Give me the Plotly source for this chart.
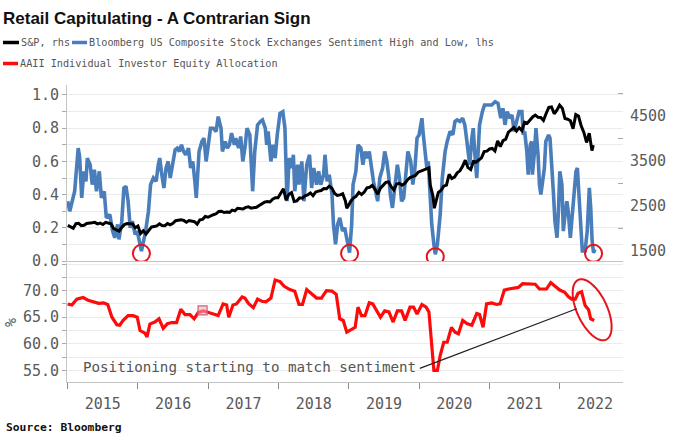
import numpy as np
import pandas as pd
import plotly.graph_objects as go

# ---------------- data ----------------
# Bloomberg US Composite Stock Exchanges Sentiment High and Low (lhs), decimal-year positions
blue_t = [2015.00, 2015.03, 2015.10, 2015.15, 2015.17, 2015.20, 2015.23, 2015.26, 2015.28, 2015.32,
          2015.35, 2015.38, 2015.41, 2015.45, 2015.48, 2015.52, 2015.55, 2015.60, 2015.64, 2015.67,
          2015.71, 2015.73, 2015.77, 2015.80, 2015.83, 2015.86, 2015.89, 2015.92, 2015.96, 2015.99,
          2016.03, 2016.05, 2016.09, 2016.11, 2016.15, 2016.18, 2016.22, 2016.26, 2016.29, 2016.31,
          2016.34, 2016.37, 2016.40, 2016.43, 2016.46, 2016.49, 2016.53, 2016.56, 2016.59, 2016.62,
          2016.65, 2016.68, 2016.72, 2016.75, 2016.78, 2016.81, 2016.83, 2016.87, 2016.91, 2016.94,
          2016.97, 2017.00, 2017.03, 2017.07, 2017.11, 2017.14, 2017.18, 2017.20, 2017.24, 2017.27,
          2017.30, 2017.33, 2017.37, 2017.39, 2017.43, 2017.46, 2017.49, 2017.52, 2017.55, 2017.59,
          2017.63, 2017.66, 2017.70, 2017.74, 2017.77, 2017.81, 2017.83, 2017.85, 2017.89, 2017.92,
          2017.95, 2017.98, 2018.02, 2018.06, 2018.09, 2018.12, 2018.15, 2018.19, 2018.21, 2018.23,
          2018.27, 2018.29, 2018.33, 2018.36, 2018.40, 2018.44, 2018.47, 2018.50, 2018.54, 2018.57,
          2018.60, 2018.64, 2018.66, 2018.69, 2018.72, 2018.76, 2018.78, 2018.81, 2018.84, 2018.87,
          2018.91, 2018.94, 2018.98, 2019.01, 2019.04, 2019.06, 2019.10, 2019.13, 2019.17, 2019.20,
          2019.23, 2019.26, 2019.29, 2019.32, 2019.35, 2019.38, 2019.41, 2019.44, 2019.48, 2019.51,
          2019.54, 2019.57, 2019.59, 2019.62, 2019.66, 2019.69, 2019.72, 2019.75, 2019.78, 2019.81,
          2019.84, 2019.88, 2019.91, 2019.94, 2019.97, 2020.00, 2020.04, 2020.06, 2020.08, 2020.11,
          2020.13, 2020.15, 2020.18, 2020.21, 2020.23, 2020.26, 2020.30, 2020.33, 2020.37, 2020.40,
          2020.44, 2020.48, 2020.51, 2020.54, 2020.58, 2020.62, 2020.65, 2020.68, 2020.70, 2020.72,
          2020.75, 2020.77, 2020.79, 2020.82, 2020.84, 2020.86, 2020.90, 2020.93, 2020.98, 2021.03,
          2021.08, 2021.12, 2021.16, 2021.19, 2021.22, 2021.25, 2021.29, 2021.32, 2021.35, 2021.39,
          2021.42, 2021.46, 2021.48, 2021.50, 2021.53, 2021.55, 2021.58, 2021.60, 2021.61, 2021.64,
          2021.66, 2021.69, 2021.71, 2021.73, 2021.76, 2021.78, 2021.80, 2021.84, 2021.86, 2021.88,
          2021.91, 2021.93, 2021.96, 2021.98, 2022.00, 2022.03, 2022.05, 2022.07, 2022.10, 2022.12,
          2022.15, 2022.17, 2022.20, 2022.23, 2022.25, 2022.28, 2022.30, 2022.32, 2022.36, 2022.39,
          2022.42, 2022.44, 2022.46, 2022.48, 2022.50]
blue_v = [0.36, 0.30, 0.42, 0.68, 0.63, 0.38, 0.54, 0.48, 0.62, 0.58,
          0.46, 0.55, 0.42, 0.54, 0.38, 0.42, 0.26, 0.28, 0.18, 0.14,
          0.22, 0.13, 0.24, 0.44, 0.45, 0.36, 0.20, 0.24, 0.16, 0.18,
          0.10, 0.06, 0.14, 0.18, 0.30, 0.46, 0.50, 0.48, 0.58, 0.62,
          0.52, 0.44, 0.56, 0.60, 0.50, 0.58, 0.67, 0.68, 0.66, 0.70,
          0.66, 0.64, 0.68, 0.56, 0.60, 0.48, 0.38, 0.66, 0.72, 0.74,
          0.60, 0.70, 0.80, 0.80, 0.78, 0.87, 0.80, 0.66, 0.72, 0.68,
          0.70, 0.77, 0.70, 0.74, 0.68, 0.75, 0.60, 0.68, 0.80, 0.76,
          0.42, 0.66, 0.82, 0.84, 0.85, 0.80, 0.70, 0.78, 0.60, 0.70,
          0.62, 0.76, 0.89, 0.90, 0.80, 0.36, 0.62, 0.56, 0.64, 0.42,
          0.58, 0.46, 0.60, 0.36, 0.58, 0.64, 0.44, 0.56, 0.46, 0.54,
          0.46, 0.52, 0.64, 0.48, 0.52, 0.40, 0.22, 0.10, 0.22, 0.26,
          0.18, 0.20, 0.10, 0.05, 0.22, 0.46, 0.54, 0.70, 0.68, 0.58,
          0.66, 0.62, 0.66, 0.56, 0.48, 0.42, 0.36, 0.50, 0.56, 0.66,
          0.60, 0.50, 0.40, 0.32, 0.46, 0.58, 0.50, 0.36, 0.38, 0.54,
          0.66, 0.60, 0.46, 0.56, 0.74, 0.76, 0.86, 0.76, 0.66, 0.56,
          0.60, 0.40, 0.22, 0.10, 0.04, 0.10, 0.28, 0.50, 0.66, 0.72,
          0.78, 0.76, 0.84, 0.85, 0.84, 0.86, 0.82, 0.72, 0.62, 0.58,
          0.74, 0.80, 0.66, 0.50, 0.66, 0.82, 0.90, 0.94, 0.94, 0.94,
          0.96, 0.95, 0.86, 0.92, 0.82, 0.90, 0.86, 0.88, 0.78, 0.86,
          0.90, 0.90, 0.76, 0.78, 0.66, 0.52, 0.70, 0.72, 0.52, 0.66,
          0.80, 0.64, 0.46, 0.40, 0.50, 0.56, 0.72, 0.76, 0.74, 0.56,
          0.40, 0.24, 0.14, 0.30, 0.54, 0.46, 0.18, 0.26, 0.36, 0.30,
          0.14, 0.24, 0.40, 0.54, 0.56, 0.36, 0.18, 0.06, 0.06, 0.18,
          0.44, 0.32, 0.12, 0.05, 0.07]

# S&P 500 (rhs)
sp_dates = ["2015-01-02", "2015-01-16", "2015-01-30", "2015-02-13", "2015-02-27", "2015-03-13", "2015-03-27",
            "2015-04-10", "2015-04-24", "2015-05-08", "2015-05-22", "2015-06-05", "2015-06-19", "2015-07-03",
            "2015-07-17", "2015-07-31", "2015-08-14", "2015-08-28", "2015-09-11", "2015-09-25", "2015-10-09",
            "2015-10-23", "2015-11-06", "2015-11-20", "2015-12-04", "2015-12-18", "2016-01-01", "2016-01-15",
            "2016-01-29", "2016-02-12", "2016-02-26", "2016-03-11", "2016-03-25", "2016-04-08", "2016-04-22",
            "2016-05-06", "2016-05-20", "2016-06-03", "2016-06-17", "2016-07-01", "2016-07-15", "2016-07-29",
            "2016-08-12", "2016-08-26", "2016-09-09", "2016-09-23", "2016-10-07", "2016-10-21", "2016-11-04",
            "2016-11-18", "2016-12-02", "2016-12-16", "2016-12-30", "2017-01-13", "2017-01-27", "2017-02-10",
            "2017-02-24", "2017-03-10", "2017-03-24", "2017-04-07", "2017-04-21", "2017-05-05", "2017-05-19",
            "2017-06-02", "2017-06-16", "2017-06-30", "2017-07-14", "2017-07-28", "2017-08-11", "2017-08-25",
            "2017-09-08", "2017-09-22", "2017-10-06", "2017-10-20", "2017-11-03", "2017-11-17", "2017-12-01",
            "2017-12-15", "2017-12-29", "2018-01-12", "2018-01-26", "2018-02-09", "2018-02-23", "2018-03-09",
            "2018-03-23", "2018-04-06", "2018-04-20", "2018-05-04", "2018-05-18", "2018-06-01", "2018-06-15",
            "2018-06-29", "2018-07-13", "2018-07-27", "2018-08-10", "2018-08-24", "2018-09-07", "2018-09-21",
            "2018-10-05", "2018-10-19", "2018-11-02", "2018-11-16", "2018-11-30", "2018-12-14", "2018-12-21",
            "2018-12-28", "2019-01-11", "2019-01-25", "2019-02-08", "2019-02-22", "2019-03-08", "2019-03-22",
            "2019-04-05", "2019-04-19", "2019-05-03", "2019-05-17", "2019-05-31", "2019-06-14", "2019-06-28",
            "2019-07-12", "2019-07-26", "2019-08-09", "2019-08-23", "2019-09-06", "2019-09-20", "2019-10-04",
            "2019-10-18", "2019-11-01", "2019-11-15", "2019-11-29", "2019-12-13", "2019-12-27", "2020-01-10",
            "2020-01-24", "2020-02-07", "2020-02-21", "2020-02-28", "2020-03-13", "2020-03-20", "2020-03-27",
            "2020-04-10", "2020-04-24", "2020-05-08", "2020-05-22", "2020-06-05", "2020-06-19", "2020-07-03",
            "2020-07-17", "2020-07-31", "2020-08-14", "2020-08-28", "2020-09-11", "2020-09-25", "2020-10-09",
            "2020-10-23", "2020-11-06", "2020-11-20", "2020-12-04", "2020-12-18", "2021-01-01", "2021-01-15",
            "2021-01-29", "2021-02-12", "2021-02-26", "2021-03-12", "2021-03-26", "2021-04-09", "2021-04-23",
            "2021-05-07", "2021-05-21", "2021-06-04", "2021-06-18", "2021-07-02", "2021-07-16", "2021-07-30",
            "2021-08-13", "2021-08-27", "2021-09-10", "2021-09-24", "2021-10-08", "2021-10-22", "2021-11-05",
            "2021-11-19", "2021-12-03", "2021-12-17", "2021-12-31", "2022-01-14", "2022-01-28", "2022-02-11",
            "2022-02-25", "2022-03-11", "2022-03-25", "2022-04-08", "2022-04-22", "2022-05-06", "2022-05-20",
            "2022-06-03", "2022-06-10", "2022-06-17", "2022-06-24"]
sp_vals = [2058, 2019, 1995, 2097, 2105, 2053, 2061,
           2102, 2117, 2116, 2126, 2092, 2110, 2077,
           2127, 2104, 2092, 1989, 1961, 1932, 2015,
           2075, 2100, 2089, 2092, 2006, 2044, 1880,
           1940, 1865, 1948, 2022, 2035, 2048, 2092,
           2057, 2052, 2099, 2071, 2103, 2162, 2174,
           2184, 2169, 2128, 2165, 2153, 2141, 2085,
           2182, 2192, 2258, 2239, 2275, 2295, 2316,
           2367, 2373, 2344, 2356, 2349, 2399, 2382,
           2439, 2433, 2423, 2459, 2472, 2441, 2443,
           2461, 2502, 2549, 2575, 2587, 2579, 2642,
           2675, 2674, 2786, 2873, 2620, 2747, 2786,
           2588, 2604, 2670, 2663, 2713, 2735, 2780,
           2718, 2801, 2819, 2833, 2875, 2872, 2930,
           2885, 2768, 2723, 2736, 2760, 2600, 2440,
           2486, 2596, 2665, 2708, 2793, 2743, 2801,
           2893, 2905, 2946, 2860, 2752, 2887, 2942,
           3014, 3026, 2919, 2847, 2979, 2992, 2952,
           2986, 3067, 3120, 3141, 3169, 3240, 3265,
           3295, 3328, 3338, 2954, 2711, 2440, 2541,
           2790, 2837, 2930, 2955, 3194, 3098, 3130,
           3225, 3271, 3373, 3508, 3341, 3298, 3477,
           3465, 3510, 3558, 3699, 3709, 3756, 3768,
           3714, 3934, 3811, 3943, 3975, 4129, 4180,
           4233, 4156, 4230, 4166, 4352, 4327, 4395,
           4468, 4509, 4459, 4455, 4391, 4545, 4680,
           4690, 4538, 4620, 4730, 4662, 4432, 4419,
           4385, 4204, 4520, 4488, 4272, 4123, 3901,
           4109, 3950, 3720, 3840]

# AAII Individual Investor Equity Allocation (%), decimal-year positions
red_t = [2015.00, 2015.06, 2015.13, 2015.22, 2015.29, 2015.36, 2015.44, 2015.51, 2015.57, 2015.63,
         2015.70, 2015.74, 2015.79, 2015.86, 2015.93, 2015.99, 2016.03, 2016.10, 2016.13, 2016.17,
         2016.24, 2016.30, 2016.36, 2016.42, 2016.48, 2016.55, 2016.61, 2016.67, 2016.74, 2016.80,
         2016.86, 2016.93, 2017.00, 2017.07, 2017.14, 2017.21, 2017.26, 2017.29, 2017.35, 2017.40,
         2017.48, 2017.52, 2017.57, 2017.64, 2017.70, 2017.76, 2017.82, 2017.89, 2017.95, 2018.02,
         2018.08, 2018.16, 2018.23, 2018.29, 2018.34, 2018.40, 2018.47, 2018.54, 2018.61, 2018.68,
         2018.76, 2018.82, 2018.87, 2018.92, 2018.97, 2019.04, 2019.09, 2019.13, 2019.18, 2019.23,
         2019.29, 2019.34, 2019.40, 2019.45, 2019.51, 2019.57, 2019.63, 2019.69, 2019.75, 2019.80,
         2019.87, 2019.92, 2019.97, 2020.04, 2020.10, 2020.14, 2020.18, 2020.21, 2020.26, 2020.30,
         2020.35, 2020.40, 2020.46, 2020.51, 2020.56, 2020.62, 2020.68, 2020.75, 2020.82, 2020.86,
         2020.91, 2020.96, 2021.03, 2021.10, 2021.15, 2021.21, 2021.27, 2021.34, 2021.41, 2021.47,
         2021.53, 2021.60, 2021.65, 2021.71, 2021.77, 2021.81, 2021.87, 2021.93, 2022.00, 2022.07,
         2022.12, 2022.17, 2022.22, 2022.26, 2022.31, 2022.36, 2022.41, 2022.44, 2022.49]
red_v = [67.5, 67.3, 68.4, 68.7, 68.2, 67.9, 67.6, 67.7, 67.4, 65.0,
         63.6, 63.5, 64.4, 65.3, 65.3, 65.0, 62.5, 62.0, 61.3, 63.7,
         64.1, 64.7, 62.9, 63.8, 64.0, 64.0, 66.5, 65.5, 65.5, 64.7,
         65.9, 66.2, 65.9, 65.6, 65.3, 67.5, 67.3, 65.0, 67.3, 67.5,
         68.8, 68.6, 67.6, 66.8, 68.4, 68.0, 67.9, 68.6, 72.0, 71.7,
         70.8, 70.2, 69.9, 67.4, 67.4, 70.2, 69.3, 68.6, 68.6, 70.0,
         69.9, 69.3, 64.7, 64.4, 62.2, 62.8, 63.1, 66.9, 65.3, 65.3,
         67.7, 67.5, 66.0, 65.0, 66.2, 66.0, 64.1, 66.2, 66.2, 64.4,
         66.9, 66.9, 65.6, 67.4, 66.9, 66.0, 59.7, 55.0, 55.0, 57.8,
         60.3, 60.3, 63.1, 62.2, 61.9, 64.4, 63.8, 63.5, 65.7, 65.5,
         63.1, 67.5, 67.7, 67.4, 67.5, 70.1, 70.3, 70.4, 70.6, 71.3,
         71.3, 71.2, 71.2, 70.3, 70.3, 70.3, 71.5, 70.9, 70.1, 69.7,
         68.9, 68.4, 68.4, 69.5, 69.8, 67.2, 66.4, 64.7, 64.4]

# highlighted sentiment lows (circled), the small square marker, and the ellipse focus
circle_t = [2016.05, 2019.01, 2020.23, 2022.48]
circle_v = [0.046, 0.046, 0.026, 0.046]
square_t = [2016.92]
square_v = [66.3]
ellipse_t = 2022.46
ellipse_v = 66.4
callout_t = [2020.01, 2022.24]
callout_v = [55.4, 66.6]

left_ticks = [0.0, 0.2, 0.4, 0.6, 0.8, 1.0]
right_ticks = [1500, 2500, 3500, 4500]
bottom_ticks = [55, 60, 65, 70]

title_text = "Retail Capitulating - A Contrarian Sign"
legend_texts = ["S&P, rhs", "Bloomberg US Composite Stock Exchanges Sentiment High and Low, lhs",
                "AAII Individual Investor Equity Allocation"]
note_text = "Positioning starting to match sentiment"
source_text = "Source: Bloomberg"


def dec2date(t):
    y = int(np.floor(t))
    return pd.Timestamp(year=y, month=1, day=1) + pd.Timedelta(days=(t - y) * 365.25)


# ---------------- layout geometry ----------------
W, H = 676, 439
ML, MR, MT, MB = 67, 53, 85, 57
PW, PH = W - ML - MR, H - MT - MB


def px(x):
    return (x - ML) / PW


def py(y):
    return (H - MB - y) / PH


BLUE = "#4a7ebb"
RED = "#ff0a0a"
GRID = "#ebebeb"
AXIS = "#c4c4c4"
TICKC = "#5a5a5a"
MONO = "DejaVu Sans Mono, Liberation Mono, monospace"

fig = go.Figure()
fig.add_trace(go.Scatter(x=[dec2date(t) for t in blue_t], y=blue_v, mode="lines",
                         line=dict(color=BLUE, width=3.6), xaxis="x2", yaxis="y",
                         name=legend_texts[1], showlegend=False))
fig.add_trace(go.Scatter(x=pd.to_datetime(sp_dates), y=sp_vals, mode="lines",
                         line=dict(color="#000000", width=3), xaxis="x2", yaxis="y2",
                         name=legend_texts[0], showlegend=False))
fig.add_trace(go.Scatter(x=[dec2date(t) for t in red_t], y=red_v, mode="lines",
                         line=dict(color=RED, width=3.2), xaxis="x", yaxis="y3",
                         name=legend_texts[2], showlegend=False))
fig.add_trace(go.Scatter(x=[dec2date(t) for t in square_t], y=square_v, mode="markers",
                         marker=dict(symbol="square", size=9, color="rgba(235,170,180,0.55)",
                                     line=dict(color="#d0607a", width=1.2)),
                         xaxis="x", yaxis="y3", showlegend=False, hoverinfo="skip"))

shapes = []
for t, v in zip(circle_t, circle_v):
    shapes.append(dict(type="circle", xref="x2", yref="y", xsizemode="pixel", ysizemode="pixel",
                       xanchor=dec2date(t), yanchor=v, x0=-8.5, x1=8.5, y0=-8.5, y1=8.5,
                       line=dict(color="#e3141c", width=2)))

# tilted ellipse (pixel path around the anchor)
ang = np.deg2rad(25)
u = (np.sin(ang), -np.cos(ang))
w = (np.cos(ang), np.sin(ang))
th = np.linspace(0, 2 * np.pi, 73)
a_, b_ = 33, 15
ex = a_ * np.cos(th) * u[0] + b_ * np.sin(th) * w[0]
ey = a_ * np.cos(th) * u[1] + b_ * np.sin(th) * w[1]
path = "M " + " L ".join(f"{x:.2f},{y:.2f}" for x, y in zip(ex, ey)) + " Z"
shapes.append(dict(type="path", xref="x", yref="y3", xsizemode="pixel", ysizemode="pixel",
                   xanchor=dec2date(ellipse_t), yanchor=ellipse_v, path=path,
                   line=dict(color="#e3141c", width=2)))
# callout line
shapes.append(dict(type="line", xref="x", yref="y3",
                   x0=dec2date(callout_t[0]), y0=callout_v[0], x1=dec2date(callout_t[1]), y1=callout_v[1],
                   line=dict(color="#222222", width=1.2)))
# legend samples
for (x0, x1, yy, col) in [(3, 19, 42.5, "#000000"), (72, 87, 42.5, BLUE), (3, 18, 63.5, RED)]:
    shapes.append(dict(type="line", xref="paper", yref="paper", x0=px(x0), x1=px(x1),
                       y0=py(yy), y1=py(yy), line=dict(color=col, width=3.5)))

annotations = [
    dict(text=f"<b>{title_text}</b>", xref="paper", yref="paper", x=px(1), y=py(18),
         xanchor="left", yanchor="middle", showarrow=False,
         font=dict(family="Liberation Sans, Arial, sans-serif", size=17, color="#111111")),
    dict(text=legend_texts[0], xref="paper", yref="paper", x=px(19), y=py(42.5),
         xanchor="left", yanchor="middle", showarrow=False, font=dict(family=MONO, size=10.2, color="#555555")),
    dict(text=legend_texts[1], xref="paper", yref="paper", x=px(86.5), y=py(42.5),
         xanchor="left", yanchor="middle", showarrow=False, font=dict(family=MONO, size=10.2, color="#555555")),
    dict(text=legend_texts[2], xref="paper", yref="paper", x=px(17.5), y=py(63.5),
         xanchor="left", yanchor="middle", showarrow=False, font=dict(family=MONO, size=10.2, color="#555555")),
    dict(text=note_text, xref="paper", yref="paper", x=px(418), y=py(367),
         xanchor="right", yanchor="middle", showarrow=False, font=dict(family=MONO, size=14.2, color="#555555")),
    dict(text=f"<b>{source_text}</b>", xref="paper", yref="paper", x=px(4), y=py(427),
         xanchor="left", yanchor="middle", showarrow=False, font=dict(family=MONO, size=11.3, color="#111111")),
    dict(text="%", xref="paper", yref="paper", x=px(11), y=py(323), textangle=-90,
         xanchor="center", yanchor="middle", showarrow=False, font=dict(family=MONO, size=15, color=TICKC)),
]

tickfont = dict(family=MONO, size=15, color=TICKC)
top_bottom = (H - MB - 261) / PH
bot_top = (H - MB - 263) / PH

fig.update_layout(
    width=W, height=H, margin=dict(l=ML, r=MR, t=MT, b=MB, autoexpand=False),
    paper_bgcolor="white", plot_bgcolor="white", showlegend=False,
    font=dict(family=MONO, color=TICKC),
    xaxis=dict(domain=[0, 1], anchor="y3", type="date",
               range=[dec2date(2014.99), dec2date(2022.899)],
               tick0="2015-01-01", dtick="M12", tickformat="%Y", ticklabelmode="period",
               ticks="outside", ticklen=6, tickcolor="#8a8a8a", tickwidth=1.3,
               showline=True, linecolor=AXIS, linewidth=1, showgrid=False, zeroline=False,
               tickfont=tickfont, ticklabelstandoff=2),
    xaxis2=dict(domain=[0, 1], anchor="y", matches="x", type="date", showticklabels=False,
                ticks="", showline=True, linecolor=AXIS, linewidth=1, showgrid=False, zeroline=False),
    yaxis=dict(domain=[top_bottom, 1], anchor="x2", range=[0, 1.0602],
               tickmode="array", tickvals=left_ticks, tickformat=".1f",
               ticks="outside", ticklen=4, tickcolor="#aaaaaa",
               showline=True, linecolor=AXIS, linewidth=1, showgrid=True, gridcolor=GRID, gridwidth=1,
               zeroline=False, tickfont=tickfont,
               minor=dict(dtick=0.1, tick0=0, ticks="outside", ticklen=4, tickcolor="#aaaaaa",
                          showgrid=True, gridcolor=GRID)),
    yaxis2=dict(overlaying="y", side="right", anchor="x2", range=[1267, 5178],
                tickmode="array", tickvals=right_ticks, ticks="", showline=False, showgrid=False,
                zeroline=False, tickfont=tickfont, ticklabelstandoff=6,
                minor=dict(tick0=2000, dtick=1000, ticks="inside", ticklen=5, tickcolor="#aaaaaa",
                           showgrid=False)),
    yaxis3=dict(domain=[0, bot_top], anchor="x", range=[52.83, 75.19],
                tickmode="array", tickvals=bottom_ticks, tickformat=".1f",
                ticks="outside", ticklen=4, tickcolor="#aaaaaa",
                showline=True, linecolor=AXIS, linewidth=1, showgrid=True, gridcolor=GRID,
                zeroline=False, tickfont=tickfont,
                minor=dict(tick0=55, dtick=2.5, ticks="outside", ticklen=4, tickcolor="#aaaaaa",
                           showgrid=True, gridcolor=GRID)),
    shapes=shapes, annotations=annotations,
)

fig.write_html("out.html", config={"displayModeBar": False},
               post_script="document.body.style.margin='0';document.body.style.overflow='hidden';")
